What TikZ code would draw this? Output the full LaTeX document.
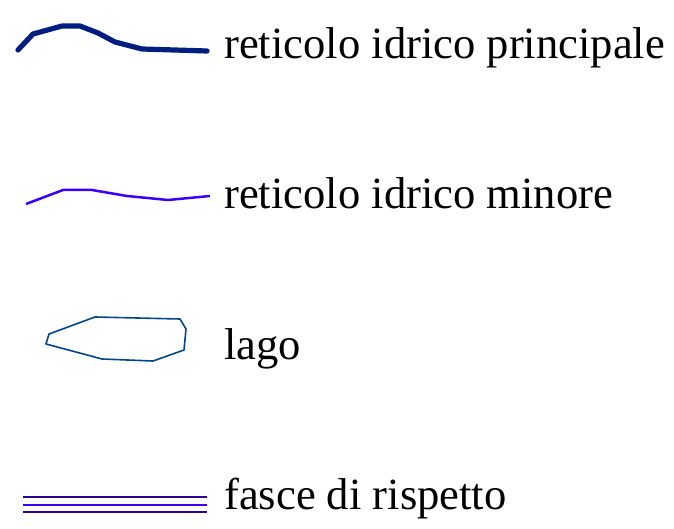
\documentclass[tikz,border=0pt]{standalone}
\usepackage{fontspec}
\setmainfont{Liberation Serif}
\definecolor{mainriver}{RGB}{0,30,128}
\definecolor{minorriver}{RGB}{55,0,255}
\definecolor{lakeblue}{RGB}{0,70,140}
\definecolor{bandouter}{RGB}{42,0,150}
\definecolor{bandinner}{RGB}{58,0,255}
\begin{document}
\begin{tikzpicture}[x=1pt,y=-1pt,
  lab/.style={anchor=base west,inner sep=0pt,font=\fontsize{44.6}{48}\selectfont},
  mainline/.style={draw=mainriver,line width=5.2pt,line cap=round,line join=round},
  minorline/.style={draw=minorriver,line width=2.5pt,line join=round},
  lakeline/.style={draw=lakeblue,line width=1.6pt,line join=round},
  bandout/.style={draw=bandouter,line width=2pt},
  bandin/.style={draw=bandinner,line width=2pt}]
\useasboundingbox (0,0) rectangle (674,529);
% principal network
\draw[mainline] (18,50) -- (33,34) -- (62,26) -- (80,26) -- (98,33) -- (115,42) -- (142,49) -- (207,51);
\node[lab] (t1) at (224,58.5) {reticolo idrico principale};
% minor network
\draw[minorline] (26,204) -- (63,190) -- (92,190) -- (127,196) -- (168,200) -- (210,196);
\node[lab] (t2) at (224,208.5) {reticolo idrico minore};
% lake
\draw[lakeline] (95,317) -- (180,319) -- (186,329) -- (184,350) -- (153,361) -- (102,359) -- (46,344) -- (49,334) -- cycle;
\node[lab] (t3) at (224,359) {lago};
% buffer strips
\draw[bandout] (23,497) -- (207,497);
\draw[bandin] (23,504.5) -- (207,504.5);
\draw[bandout] (23,512) -- (207,512);
\node[lab] (t4) at (224,509) {fasce di rispetto};
\end{tikzpicture}
\end{document}
